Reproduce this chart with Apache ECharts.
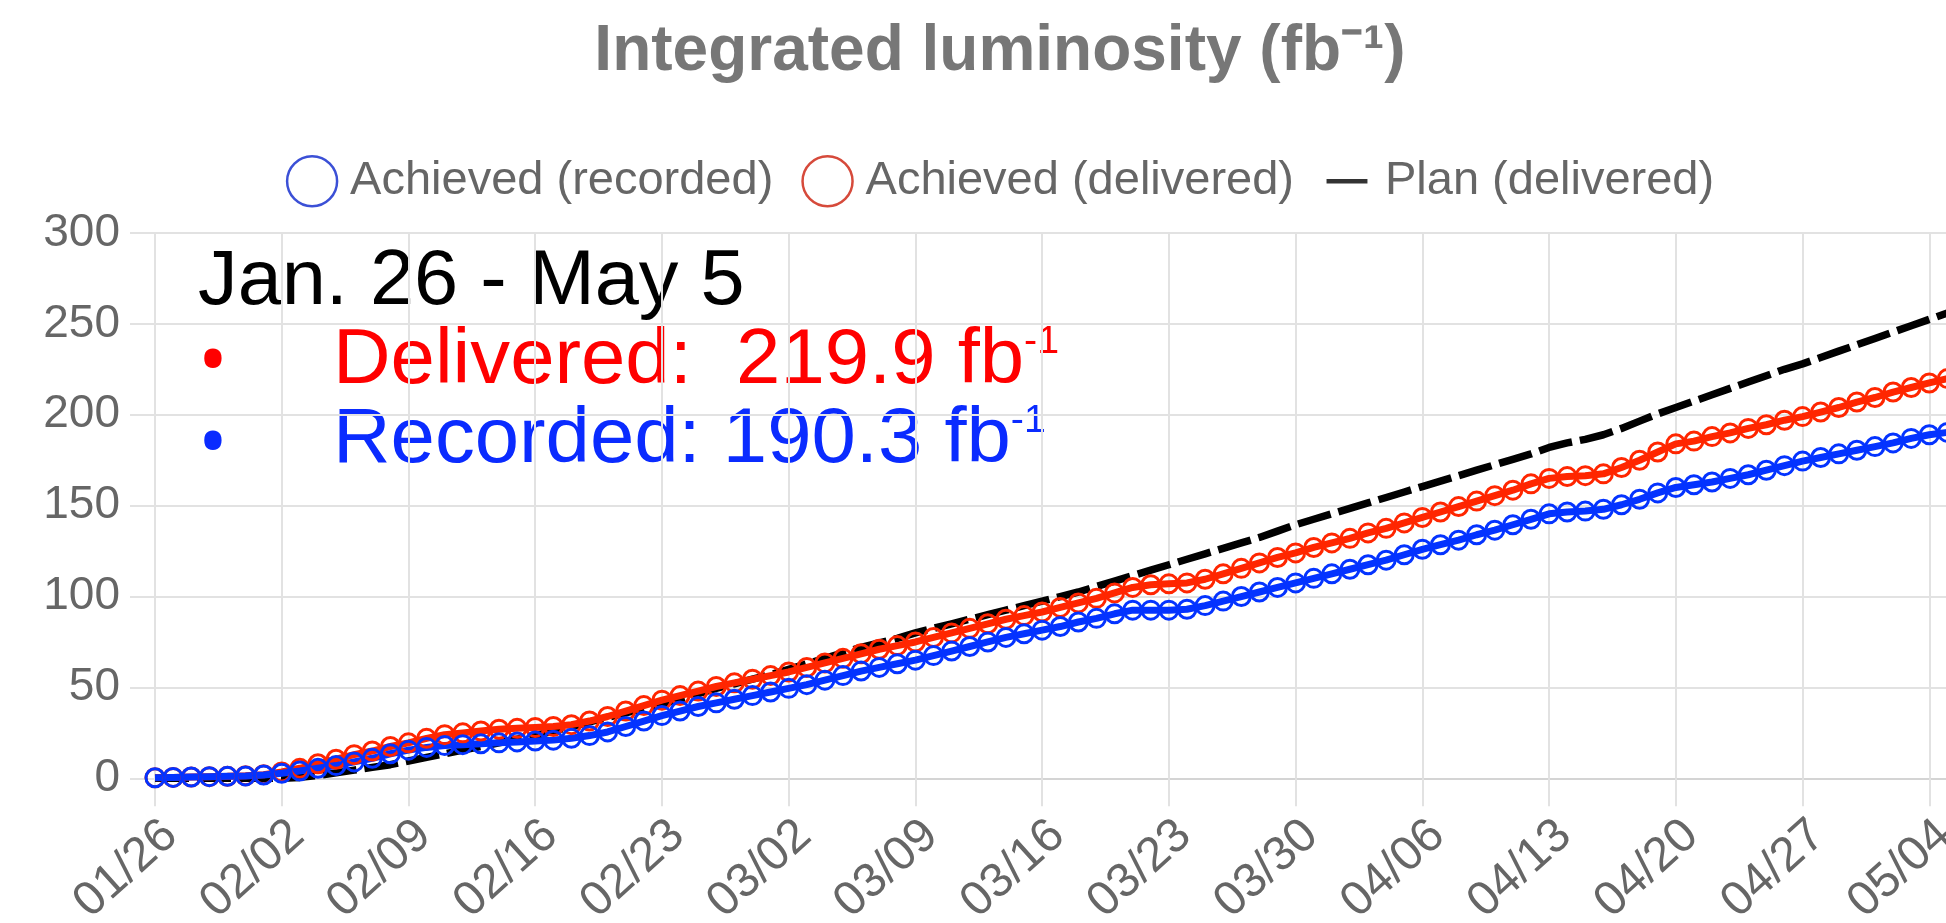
<!DOCTYPE html>
<html>
<head>
<meta charset="utf-8">
<script src="https://cdn.jsdelivr.net/npm/echarts@6/dist/echarts.min.js"></script>
<style>
  html, body { margin: 0; padding: 0; overflow: hidden; background: #fff; }
  #chart { width: 2000px; height: 923px; }
</style>
</head>
<body>
<div id="chart"></div>
<script>
// days of the run, Jan. 26 - May 5
const days = [
  "01/26", "01/27", "01/28", "01/29", "01/30", "01/31",
  "02/01", "02/02", "02/03", "02/04", "02/05", "02/06", "02/07", "02/08", "02/09", "02/10",
  "02/11", "02/12", "02/13", "02/14", "02/15", "02/16", "02/17", "02/18", "02/19", "02/20",
  "02/21", "02/22", "02/23", "02/24", "02/25", "02/26", "02/27", "02/28",
  "03/01", "03/02", "03/03", "03/04", "03/05", "03/06", "03/07", "03/08", "03/09", "03/10",
  "03/11", "03/12", "03/13", "03/14", "03/15", "03/16", "03/17", "03/18", "03/19", "03/20",
  "03/21", "03/22", "03/23", "03/24", "03/25", "03/26", "03/27", "03/28", "03/29", "03/30", "03/31",
  "04/01", "04/02", "04/03", "04/04", "04/05", "04/06", "04/07", "04/08", "04/09", "04/10",
  "04/11", "04/12", "04/13", "04/14", "04/15", "04/16", "04/17", "04/18", "04/19", "04/20",
  "04/21", "04/22", "04/23", "04/24", "04/25", "04/26", "04/27", "04/28", "04/29", "04/30",
  "05/01", "05/02", "05/03", "05/04", "05/05",
];

// fb^-1, one value per day
const recorded = [
  0.3, 0.5, 0.7, 0.9, 1.1, 1.3, 1.8, 2.8, 4, 5.5,
  7, 9, 11, 13.5, 15.5, 17, 18, 18.5, 19, 19.5,
  20, 20.5, 21, 22, 23.5, 25.5, 28.5, 31.5, 34.5, 37,
  39.5, 41.5, 43.5, 45.5, 47.5, 49.5, 51.5, 54, 56.5, 59,
  61, 63, 65, 67.5, 70, 72.5, 75, 77.5, 79.5, 81.5,
  83.5, 86, 88, 90.5, 92.5, 92.5, 92.5, 93, 95, 97.5,
  100, 102.5, 105, 107.5, 110, 112.5, 115, 117.5, 120, 123,
  126, 128.5, 131, 134, 136.5, 139.5, 142.5, 145.5, 146.5, 147,
  148, 150.5, 153.5, 157, 160, 161.5, 163, 165, 167, 169.5,
  172, 174.5, 176.5, 178.5, 180.5, 182.5, 184.5, 187, 189, 190.3,
];

const delivered = [
  0.3, 0.5, 0.7, 0.9, 1.1, 1.4, 2, 3.5, 5.5, 8,
  10.5, 13, 15, 17.5, 19.5, 22, 24, 25, 26, 27,
  27.5, 28, 28.5, 29.5, 31.5, 34, 37, 40, 43, 45.5,
  48, 50.5, 52.5, 54.5, 56.5, 58.5, 61, 63.5, 66, 68.5,
  71, 73, 75, 77.5, 80, 82.5, 85, 87.5, 89.5, 91.5,
  94, 96.5, 99, 102, 105, 106.5, 107, 107.5, 109.5, 112.5,
  115.5, 118.5, 121.5, 124, 127, 129.5, 132, 135, 137.5, 140.5,
  143.5, 146.5, 149.5, 152.5, 155.5, 158.5, 162, 165, 166, 166.5,
  167.5, 171, 175, 179.5, 184, 185.5, 188, 190, 192.5, 194.5,
  197, 199, 201.5, 204, 207, 209.5, 212.5, 215, 217.5, 219.9,
];

const plan = [
  0, 0, 0, 0, 0, 0, 0, 0, 0.5, 1.5,
  3, 4.5, 6, 7.5, 9.5, 11.5, 13.5, 15.5, 17.5, 19.5,
  21.5, 23.5, 26, 28.5, 31, 33.5, 36, 38.5, 41, 43.5,
  46.5, 49.5, 52, 54.5, 57, 60, 63, 66, 69, 72,
  74.5, 77, 80, 82.5, 85, 87.5, 90, 92.5, 95, 97.5,
  100, 102.5, 105.5, 108.5, 111.5, 114.5, 117.5, 120.5, 123.5, 126.5,
  129.5, 132.5, 136, 139.5, 142.5, 145.5, 148.5, 151.5, 154.5, 157.5,
  160.5, 163.5, 166.5, 169.5, 172.5, 175.5, 178.5, 182, 184.5, 186.5,
  189, 192.5, 196.5, 200.5, 204, 207.5, 211, 214.5, 218, 221.5,
  225, 228, 231.5, 235, 238.5, 242, 245.5, 249, 252.5, 256,
];

const FONT = "Liberation Sans";
const gridLine = { color: "#e2e2e2", width: 2 };

const chart = echarts.init(document.getElementById("chart"));

// achieved curves: hollow circles with the line running through them
function achieved(name, data, color) {
  return {
    name: name,
    type: "line",
    data: data,
    symbol: "circle",
    symbolSize: 18,
    showAllSymbol: true,
    lineStyle: { color: color, width: 7 },
    itemStyle: { color: "transparent", borderColor: color, borderWidth: 3 },
  };
}

// big note in the upper left corner, "fb" gets a small superscript -1
function note(text, color, y) {
  return {
    type: "text", x: 333, y: y, scaleX: 1.035,
    style: {
      text: "{a|" + text + "}{s|-1}",
      fill: color,
      verticalAlign: "middle",
      rich: {
        a: { fontFamily: FONT, fontSize: 77, fill: color },
        s: { fontFamily: FONT, fontSize: 38, fill: color, verticalAlign: "top" },
      },
    },
  };
}

function bullet(color, y) {
  return {
    type: "text", x: 213, y: y,
    style: { text: "•", fontFamily: "Noto Sans", fontSize: 78, fill: color, align: "center", verticalAlign: "middle" },
  };
}

let option = {
  animation: false,
  title: {
    text: "Integrated luminosity (fb⁻¹)",
    left: "center",
    top: 15,
    textStyle: { fontFamily: FONT, fontSize: 64, fontWeight: "bold", color: "#777" },
  },
  legend: {
    top: 150,
    left: "center",
    itemWidth: 50,
    itemHeight: 50,
    itemGap: 28,
    textStyle: { fontFamily: FONT, fontSize: 47, color: "#666", padding: [0, 0, 0, 8] },
    data: [
      {
        name: "Achieved (recorded)",
        icon: "circle",
        itemStyle: { color: "transparent", borderColor: "#3b50d6", borderWidth: 2.5 },
      },
      {
        name: "Achieved (delivered)",
        icon: "circle",
        itemStyle: { color: "transparent", borderColor: "#d64a3b", borderWidth: 2.5 },
      },
      {
        name: "Plan (delivered)",
        icon: "path://M0,0M44,44M4,20H40V24H4Z",
        itemStyle: { color: "#333", borderWidth: 0 },
      },
    ],
  },
  grid: { left: 155, right: 52.6, top: 233, bottom: 144.7, outerBoundsMode: "none", containLabel: false },
  xAxis: {
    type: "category",
    data: days,
    boundaryGap: false,
    axisLine: { show: true, lineStyle: { color: "#d4d4d4", width: 2 } },
    axisTick: { show: true, interval: 6, length: 28, lineStyle: gridLine },
    axisLabel: {
      interval: 6, rotate: 42, margin: 33,
      align: "right", verticalAlign: "top", lineHeight: 47,
      fontFamily: FONT, fontSize: 48, color: "#666",
    },
    splitLine: { show: true, interval: 6, lineStyle: gridLine },
  },
  yAxis: {
    type: "value",
    min: 0,
    max: 300,
    interval: 50,
    axisLine: { show: false },
    axisTick: { show: true, length: 25, lineStyle: gridLine },
    axisLabel: { margin: 35, fontFamily: FONT, fontSize: 46, color: "#666" },
    splitLine: { lineStyle: gridLine },
  },
  graphic: [
    {
      type: "text", x: 198, y: 283, scaleX: 1.03,
      style: { text: "Jan. 26 - May 5", fontFamily: FONT, fontSize: 77, fill: "#000", verticalAlign: "middle" },
    },
    bullet("#ff0000", 365),
    note("Delivered:  219.9 fb", "#ff0000", 362),
    bullet("#0a2bff", 447),
    note("Recorded: 190.3 fb", "#0a2bff", 441),
  ],
  series: [
    {
      name: "Plan (delivered)",
      type: "line",
      data: plan,
      symbol: "none",
      lineStyle: { color: "#000", width: 7.5, type: [34, 8] },
      itemStyle: { color: "#000" },
    },
    achieved("Achieved (delivered)", delivered, "#ff2600"),
    achieved("Achieved (recorded)", recorded, "#0433ff"),
  ],
};

chart.setOption(option);
</script>
</body>
</html>
